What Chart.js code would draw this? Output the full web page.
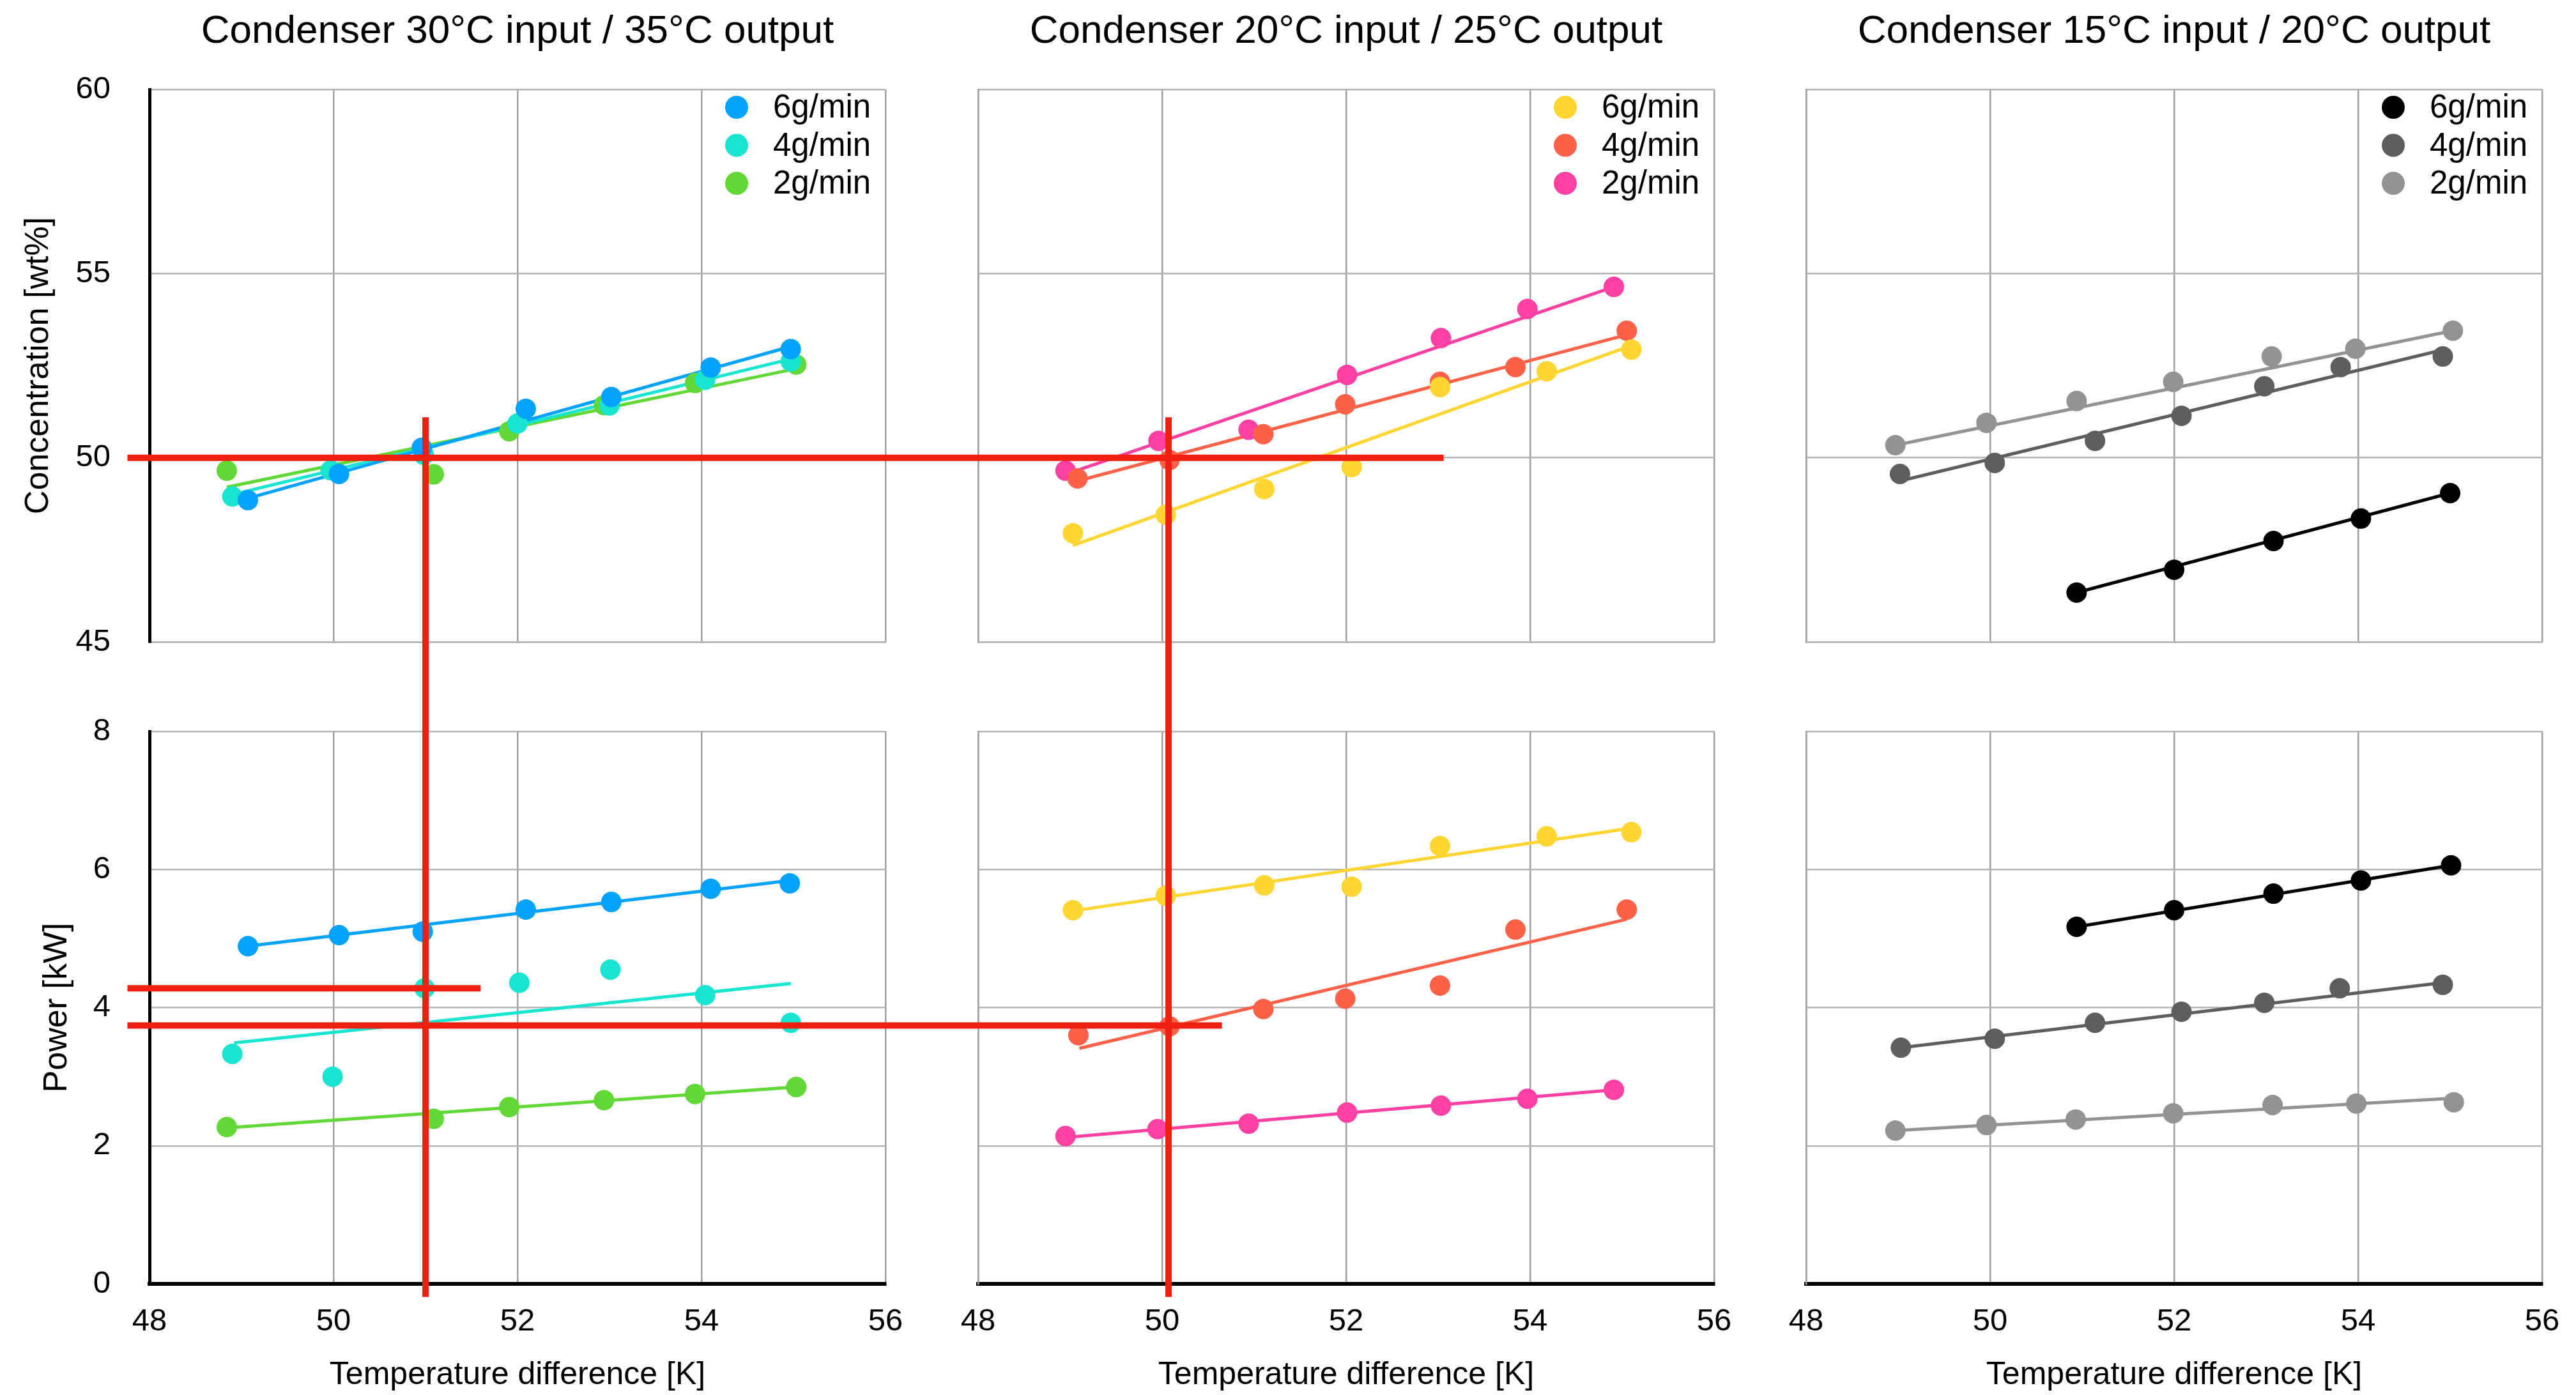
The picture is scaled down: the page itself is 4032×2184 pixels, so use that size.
<!DOCTYPE html>
<html>
<head>
<meta charset="utf-8">
<script src="https://cdn.jsdelivr.net/npm/chart.js@4.4.1/dist/chart.umd.min.js"></script>
<style>
  html, body { margin: 0; padding: 0; background: #fff; }
  #page { position: relative; width: 4032px; height: 2184px; background: #fff; overflow: hidden; }
  .panel { position: absolute; }
  #guides { position: absolute; left: 0; top: 0; z-index: 10; pointer-events: none; }
</style>
</head>
<body>
<div id="page">
  <canvas id="guides" width="4032" height="2184"></canvas>
</div>
<script>
const SERIES = ['6g/min', '4g/min', '2g/min'];
const TITLES = [
  'Condenser 30°C input / 35°C output',
  'Condenser 20°C input / 25°C output',
  'Condenser 15°C input / 20°C output'
];
const X_TICKS = [48, 50, 52, 54, 56];
const CONC_TICKS = [45, 50, 55, 60];
const POWER_TICKS = [0, 2, 4, 6, 8];

const COLORS = [
  ['#02a2fd', '#17e5cf', '#62d836'],
  ['#fed531', '#fe6148', '#fe40a3'],
  ['#000000', '#5e5e5e', '#939393']
];

// concentration [wt%] vs temperature difference [K]
const conc30_6 = [[49.07,48.85],[50.06,49.56],[50.96,50.27],[52.09,51.33],[53.02,51.65],[54.1,52.45],[54.97,52.95]];
const conc30_4 = [[48.9,48.95],[49.97,49.66],[50.98,50.08],[52.0,50.93],[53.0,51.42],[54.04,52.12],[54.97,52.62]];
const conc30_2 = [[48.84,49.65],[51.09,49.55],[51.91,50.72],[52.94,51.43],[53.93,52.03],[55.03,52.53]];

const conc20_6 = [[49.03,47.95],[50.04,48.45],[51.11,49.15],[52.06,49.75],[53.02,51.92],[54.18,52.35],[55.1,52.94]];
const conc20_4 = [[49.08,49.44],[50.08,49.94],[51.1,50.64],[51.99,51.45],[53.02,52.06],[53.84,52.46],[55.05,53.45]];
const conc20_2 = [[48.95,49.65],[49.96,50.46],[50.94,50.76],[52.01,52.25],[53.03,53.25],[53.97,54.04],[54.91,54.64]];

const conc15_6 = [[50.94,46.34],[52.0,46.96],[53.08,47.74],[54.03,48.35],[55.0,49.04]];
const conc15_4 = [[49.02,49.56],[50.05,49.86],[51.14,50.46],[52.08,51.14],[52.98,51.94],[53.81,52.46],[54.92,52.75]];
const conc15_2 = [[48.97,50.34],[49.96,50.95],[50.94,51.54],[51.99,52.06],[53.06,52.75],[53.97,52.96],[55.03,53.45]];

// power [kW] vs temperature difference [K]
const power30_6 = [[49.07,4.89],[50.06,5.05],[50.97,5.1],[52.09,5.42],[53.02,5.53],[54.1,5.72],[54.96,5.8]];
const power30_4 = [[48.9,3.33],[49.99,3.0],[50.99,4.28],[52.02,4.36],[53.01,4.55],[54.04,4.18],[54.97,3.78]];
const power30_2 = [[48.84,2.27],[51.09,2.39],[51.91,2.56],[52.94,2.66],[53.93,2.75],[55.03,2.85]];

const power20_6 = [[49.03,5.41],[50.04,5.62],[51.11,5.77],[52.06,5.75],[53.02,6.34],[54.18,6.48],[55.1,6.54]];
const power20_4 = [[49.09,3.6],[50.08,3.73],[51.1,3.98],[51.99,4.13],[53.02,4.32],[53.84,5.13],[55.05,5.42]];
const power20_2 = [[48.95,2.14],[49.95,2.24],[50.94,2.32],[52.01,2.48],[53.03,2.58],[53.97,2.68],[54.91,2.81]];

const power15_6 = [[50.94,5.17],[52.0,5.41],[53.08,5.65],[54.03,5.84],[55.01,6.06]];
const power15_4 = [[49.03,3.42],[50.05,3.55],[51.14,3.78],[52.08,3.94],[52.98,4.07],[53.8,4.28],[54.92,4.33]];
const power15_2 = [[48.97,2.22],[49.96,2.3],[50.93,2.38],[51.99,2.47],[53.07,2.59],[53.98,2.61],[55.04,2.63]];

// trend lines, one per series: [x start, y start, x end, y end]
const concFit30 = [[49.07,48.9,54.97,53.02],[48.9,49.0,54.97,52.68],[48.84,49.2,55.03,52.42]];
const concFit20 = [[49.03,47.62,55.05,53.0],[49.08,49.37,55.05,53.34],[48.95,49.55,54.91,54.64]];
const concFit15 = [[50.94,46.34,55.0,49.04],[49.02,49.37,54.92,52.93],[48.97,50.34,55.03,53.45]];
const powerFit30 = [[49.07,4.89,54.96,5.84],[48.92,3.49,54.97,4.35],[48.84,2.26,55.03,2.85]];
const powerFit20 = [[49.03,5.4,55.05,6.59],[49.1,3.41,55.05,5.28],[48.95,2.12,54.91,2.81]];
const powerFit15 = [[50.94,5.17,55.01,6.06],[49.03,3.42,54.92,4.36],[48.97,2.22,55.04,2.69]];

// red reading lines: [column, row, x, y] -> [column, row, x, y]
const GUIDES = [
  [[0, 0, 47.76, 50], [1, 0, 53.06, 50]],
  [[0, 0, 51.0, 51.1], [0, 1, 51.0, -0.19]],
  [[1, 0, 50.07, 51.1], [1, 1, 50.07, -0.19]],
  [[0, 1, 47.76, 4.28], [0, 1, 51.6, 4.28]],
  [[0, 1, 47.76, 3.74], [1, 1, 50.65, 3.74]]
];

const CONC_DATA = [[conc30_6, conc30_4, conc30_2], [conc20_6, conc20_4, conc20_2], [conc15_6, conc15_4, conc15_2]];
const POWER_DATA = [[power30_6, power30_4, power30_2], [power20_6, power20_4, power20_2], [power15_6, power15_4, power15_2]];
const CONC_FITS = [concFit30, concFit20, concFit15];
const POWER_FITS = [powerFit30, powerFit20, powerFit15];

// layout of the plot areas on the page
const AREA_LEFT = [234, 1531, 2827];
const AREA_TOP = [140, 1145];
const AREA_W = 1152;
const AREA_H = 865;
const PAGE_H = 2184;

const FONT = '"Liberation Sans", Arial, Helvetica, sans-serif';
Chart.defaults.font.family = FONT;
Chart.defaults.color = '#000';

const GRID_H = '#b4b4b4';
const GRID_V = '#a0a0a0';

const insideLegend = {
  id: 'insideLegend',
  afterDatasetsDraw(chart, args, opts) {
    if (!opts.show) return;
    const {ctx, chartArea} = chart;
    ctx.save();
    ctx.font = '51px ' + FONT;
    ctx.textBaseline = 'middle';
    ctx.textAlign = 'left';
    chart.data.datasets.filter(d => d.inLegend).forEach((d, i) => {
      const x = chartArea.right - 233;
      const y = chartArea.top + 28 + i * 59.5;
      ctx.beginPath();
      ctx.arc(x, y, 18, 0, Math.PI * 2);
      ctx.fillStyle = d.backgroundColor;
      ctx.fill();
      ctx.fillStyle = '#000';
      ctx.fillText(d.label, x + 57, y + 2);
    });
    ctx.restore();
  }
};

function buildDatasets(points, fits, colors) {
  const sets = [];
  points.forEach((pts, i) => {
    sets.push({
      label: SERIES[i],
      inLegend: true,
      data: pts.map(([x, y]) => ({x, y})),
      backgroundColor: colors[i],
      borderColor: colors[i],
      pointRadius: 16,
      pointHoverRadius: 16,
      pointBorderWidth: 0,
      showLine: false
    });
  });
  fits.forEach((f, i) => {
    sets.push({
      label: SERIES[i] + ' trend',
      data: [{x: f[0], y: f[1]}, {x: f[2], y: f[3]}],
      borderColor: colors[i],
      backgroundColor: colors[i],
      borderWidth: 5,
      pointRadius: 0,
      pointHoverRadius: 0,
      showLine: true,
      fill: false
    });
  });
  return sets;
}

const page = document.getElementById('page');
const panels = [[], []];

for (let row = 0; row < 2; row++) {
  for (let col = 0; col < 3; col++) {
    const left = col === 0 ? 0 : AREA_LEFT[col] - 60;
    const yAxisW = AREA_LEFT[col] - left;
    const padR = 30;
    const padT = row === 0 ? 0 : 30;
    const titleH = row === 0 ? AREA_TOP[0] : 0;
    const xAxisH = row === 0 ? 30 : PAGE_H - (AREA_TOP[1] + AREA_H);
    const top = row === 0 ? 0 : AREA_TOP[1] - padT;
    const width = yAxisW + AREA_W + padR;
    const height = padT + titleH + AREA_H + xAxisH;

    const div = document.createElement('div');
    div.className = 'panel';
    div.style.left = left + 'px';
    div.style.top = top + 'px';
    div.style.width = width + 'px';
    div.style.height = height + 'px';
    const canvas = document.createElement('canvas');
    canvas.width = width;
    canvas.height = height;
    div.appendChild(canvas);
    page.appendChild(div);

    const isTop = row === 0;
    const ticks = isTop ? CONC_TICKS : POWER_TICKS;
    const datasets = isTop
      ? buildDatasets(CONC_DATA[col], CONC_FITS[col], COLORS[col])
      : buildDatasets(POWER_DATA[col], POWER_FITS[col], COLORS[col]);

    const chart = new Chart(canvas, {
      type: 'scatter',
      data: { datasets },
      plugins: [insideLegend],
      options: {
        responsive: false,
        animation: false,
        events: [],
        layout: { padding: { top: padT, right: padR, left: 0, bottom: 0 } },
        plugins: {
          legend: { display: false },
          tooltip: { enabled: false },
          insideLegend: { show: isTop },
          title: {
            display: isTop,
            text: TITLES[col],
            fullSize: false,
            font: { size: 62, weight: 'normal' },
            color: '#000',
            padding: { top: 13, bottom: 52.6 }
          }
        },
        scales: {
          x: {
            type: 'linear',
            min: X_TICKS[0],
            max: X_TICKS[X_TICKS.length - 1],
            afterBuildTicks: s => { s.ticks = X_TICKS.map(v => ({ value: v })); },
            afterFit: s => { s.height = xAxisH; s.paddingLeft = 0; s.paddingRight = 0; },
            grid: { color: GRID_V, lineWidth: 2.5, drawTicks: false },
            border: isTop ? { color: GRID_H, width: 2.5 } : { color: '#000', width: 6 },
            ticks: { display: !isTop, font: { size: 49 }, padding: 30, maxRotation: 0 },
            title: {
              display: !isTop,
              text: 'Temperature difference [K]',
              font: { size: 50 },
              padding: { top: 0, bottom: 1 }
            }
          },
          y: {
            type: 'linear',
            min: ticks[0],
            max: ticks[ticks.length - 1],
            afterBuildTicks: s => { s.ticks = ticks.map(v => ({ value: v })); },
            afterFit: s => { s.width = yAxisW; s.paddingTop = 0; s.paddingBottom = 0; },
            grid: { color: GRID_H, lineWidth: 2.5, drawTicks: false },
            border: col === 0 ? { color: '#000', width: 5 } : { color: GRID_V, width: 2.5 },
            ticks: { display: col === 0, font: { size: 49 }, padding: 61 },
            title: {
              display: col === 0,
              text: isTop ? 'Concentration [wt%]' : 'Power [kW]',
              font: { size: 52 },
              padding: { top: isTop ? 29 : 58, bottom: 0 }
            }
          }
        }
      }
    });
    panels[row][col] = { chart, left, top };
  }
}

// red reading lines across panels, placed through each panel's own scales
function toPage([col, row, x, y]) {
  const p = panels[row][col];
  return [p.left + p.chart.scales.x.getPixelForValue(x), p.top + p.chart.scales.y.getPixelForValue(y)];
}
const gctx = document.getElementById('guides').getContext('2d');
gctx.strokeStyle = '#ee2010';
gctx.lineWidth = 10;
gctx.lineCap = 'butt';
GUIDES.forEach(([a, b]) => {
  const [x0, y0] = toPage(a);
  const [x1, y1] = toPage(b);
  gctx.beginPath();
  gctx.moveTo(x0, y0);
  gctx.lineTo(x1, y1);
  gctx.stroke();
});
</script>
</body>
</html>
